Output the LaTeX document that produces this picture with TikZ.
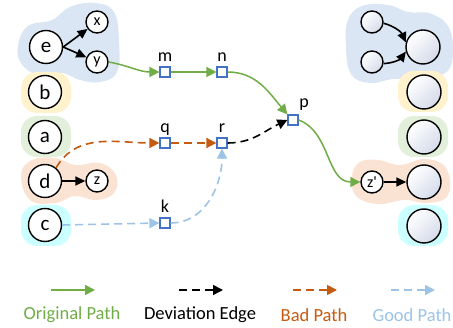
\documentclass[tikz,border=0pt]{standalone}
\usepackage{fontspec}
\setmainfont{Carlito}[Ligatures=TeXOff]
\usetikzlibrary{arrows.meta}
\usepackage{xcolor}

\definecolor{origgreen}{HTML}{70AD47}
\definecolor{badorange}{HTML}{C55A11}
\definecolor{goodblue}{HTML}{9DC3E6}
\definecolor{boxblue}{HTML}{4472C4}
\definecolor{blobblue}{HTML}{DAE6F3}
\definecolor{blobyellow}{HTML}{FFF2CC}
\definecolor{blobgreen}{HTML}{E2EFDA}
\definecolor{bloborange}{HTML}{FBE3D4}
\definecolor{blobcyan}{HTML}{CCFFFF}
\definecolor{shadeend}{HTML}{D5DBEA}

\begin{document}
\begin{tikzpicture}[
        x=1pt, y=1pt,
        >={Triangle[length=10pt,width=10pt]},
        font=\fontsize{18.5}{21}\selectfont,
        var/.style={circle, draw, line width=1.4pt, fill=white, minimum size=33pt, inner sep=0pt, font=\fontsize{21}{24}\selectfont},
        subvar/.style={var, minimum size=22pt, font=\fontsize{16}{18}\selectfont},
        slot/.style={circle, draw, line width=1.4pt, minimum size=34pt, inner sep=0pt,
            top color=white, bottom color=shadeend, shading angle=45},
        subslot/.style={slot, minimum size=22pt},
        pt/.style={rectangle, draw=boxblue, line width=1.2pt, fill=white, minimum size=10pt, inner sep=0pt},
        tag/.style={label distance=1pt, text depth=0pt, font=\fontsize{18}{20}\selectfont},
        edge/.style={line width=1.6pt, -{Triangle[length=10pt,width=9pt]}},
        orig/.style={origgreen, line width=1.5pt, ->},
        dev/.style={black, line width=1.6pt, dash pattern=on 8pt off 5pt, ->},
        bad/.style={badorange, line width=1.6pt, dash pattern=on 8pt off 5pt, ->},
        good/.style={goodblue, line width=1.6pt, dash pattern=on 8pt off 5pt, ->}
    ]
    \useasboundingbox (0,0) rectangle (453,-328);

    % Groups (left)
    \fill[blobblue] plot[smooth cycle, tension=0.7] coordinates {(18,-45) (28,-26) (52,-20) (70,-7) (95,-3) (114,-12) (119,-42) (117,-72) (100,-82) (80,-80) (62,-73) (38,-75) (21,-63)};
    \fill[blobyellow, rounded corners=16pt] (21,-72) rectangle (71,-113);
    \fill[blobgreen, rounded corners=16pt] (21,-116) rectangle (71,-157);
    \fill[bloborange] plot[smooth cycle, tension=0.7] coordinates {(21,-175) (32,-160) (55,-158) (76,-165) (100,-163) (116,-175) (114,-193) (96,-200) (75,-196) (55,-203) (30,-200)};
    \fill[blobcyan, rounded corners=16pt] (21,-205) rectangle (71,-246);

    % Groups (right)
    \fill[blobblue] plot[smooth cycle, tension=0.7] coordinates {(348,-20) (362,-6) (388,-5) (408,-12) (432,-14) (450,-30) (452,-62) (440,-76) (418,-81) (394,-79) (370,-83) (351,-74) (346,-46)};
    \fill[blobyellow, rounded corners=16pt] (398,-71) rectangle (448,-112);
    \fill[blobgreen, rounded corners=16pt] (398,-116) rectangle (448,-157);
    \fill[bloborange] plot[smooth cycle, tension=0.7] coordinates {(352,-176) (360,-162) (378,-160) (400,-165) (425,-159) (446,-168) (448,-195) (428,-203) (405,-200) (378,-204) (356,-196)};
    \fill[blobcyan, rounded corners=16pt] (398,-205) rectangle (448,-246);

    % Variables
    \node[var] (e) at (46,-47) {e};
    \node[subvar] (x) at (97,-22) {x};
    \node[subvar] (y) at (97,-62) {y};
    \node[var] (b) at (45,-92) {b};
    \node[var] (a) at (45,-137) {a};
    \node[var] (d) at (45,-181) {d};
    \node[subvar] (z) at (97,-181) {z};
    \node[var] (c) at (45,-225) {c};

    % Path points
    \node[pt, label={[tag]above:m}] (m) at (165,-72) {};
    \node[pt, label={[tag]above:n}] (n) at (222,-72) {};
    \node[pt, label={[tag]above:q}] (q) at (165,-143) {};
    \node[pt, label={[tag]above:r}] (r) at (222,-143) {};
    \node[pt, label={[tag]above:k}] (k) at (165,-223) {};
    \node[pt, label={[tag, xshift=11pt, label distance=3pt]above:p}] (p) at (293,-120) {};

    % Slots
    \node[subslot] (t1) at (372,-22) {};
    \node[subslot] (t2) at (372,-62) {};
    \node[slot] (s0) at (423,-47) {};
    \node[slot] (s1) at (424,-92) {};
    \node[slot] (s2) at (424,-137) {};
    \node[subvar] (zp) at (372,-182) {z'};
    \node[slot] (s3) at (424,-182) {};
    \node[slot] (s4) at (424,-226) {};

    % Edges
    \draw[edge] (e.east) -- (x);
    \draw[edge] (e.east) -- (y);
    \draw[edge] (d) -- (z);
    \draw[edge] (t1) to[bend left=25] (s0.165);
    \draw[edge] (t2) to[bend right=25] (s0.195);
    \draw[edge] (zp) -- (s3);

    % Original path
    \draw[orig] (y.east) to[out=-10, in=180] (m.west);
    \draw[orig] (m) -- (n);
    \draw[orig] (n.east) to[out=0, in=130] (p.north west);
    \draw[orig] (p.east) to[out=-20, in=180] (zp.west);

    % Deviation, bad and good paths
    \draw[dev] (r.east) to[out=0, in=205] (p.west);
    \draw[bad] (d.50) to[out=60, in=180] (q.west);
    \draw[bad] (q) -- (r);
    \draw[good] (c.east) -- (k.west);
    \draw[good] (k.east) to[out=0, in=-90] (r.south);

    % Legend
    \coordinate (la1) at (51,-290);  \coordinate (lb1) at (95,-290);
    \coordinate (la2) at (179,-290); \coordinate (lb2) at (223,-290);
    \coordinate (la3) at (293,-290); \coordinate (lb3) at (337,-290);
    \coordinate (la4) at (391,-290); \coordinate (lb4) at (435,-290);
    \draw[orig] (la1) -- (lb1);
    \draw[dev] (la2) -- (lb2);
    \draw[bad] (la3) -- (lb3);
    \draw[good] (la4) -- (lb4);
    \node[origgreen] (l1) at (72,-315) {Original Path};
    \node (l2) at (200,-315) {Deviation Edge};
    \node[badorange] (l3) at (314,-315) {Bad Path};
    \node[goodblue] (l4) at (412,-315) {Good Path};
\end{tikzpicture}
\end{document}
